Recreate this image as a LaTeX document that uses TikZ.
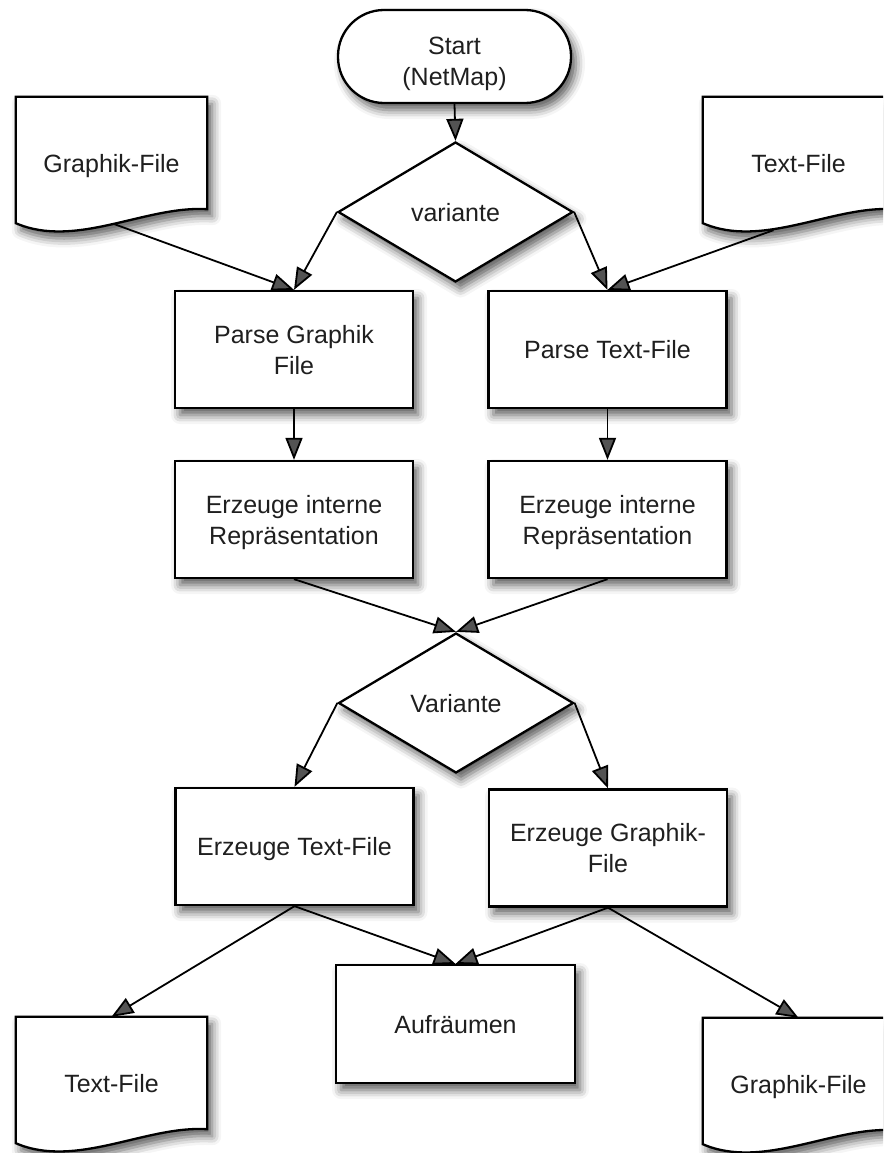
\documentclass[tikz,border=0pt]{standalone}
\usepackage{fontspec}
\setmainfont{Liberation Sans}
\usetikzlibrary{shapes.geometric,arrows.meta,shadows.blur}
\begin{document}
\begin{tikzpicture}[x=1pt,y=-1pt,
  every node/.style={font=\fontsize{25}{31}\selectfont, text=black!88, text depth=0pt},
  softshadow/.style={blur shadow={shadow xshift=5pt,shadow yshift=-7pt,shadow blur radius=9pt,shadow opacity=65}},
  box/.style={rectangle, draw, line width=2.3pt, fill=white, softshadow,
    minimum width=238pt, minimum height=117pt, align=center, inner sep=0pt},
  decision/.style={diamond, draw, line width=2.3pt, fill=white, softshadow,
    minimum width=235pt, minimum height=140pt, inner sep=0pt},
  terminal/.style={rectangle, rounded corners=46pt, draw, line width=2.3pt, fill=white, softshadow,
    minimum width=233pt, minimum height=93pt, align=center, inner sep=0pt},
  doc/.style={rectangle, minimum width=191pt, minimum height=126pt, inner sep=0pt},
  docline/.style={line width=2.3pt, fill=white, softshadow, line join=miter},
  flow/.style={line width=1.8pt, -{Triangle[length=22pt,width=17pt]}},
]
\useasboundingbox (0,0) rectangle (883,1153);
\clip (0,0) rectangle (883,1153);

% document outline: flat top, wavy bottom
\newcommand{\docshape}[1]{%
  \draw[docline] (#1.north west) -- (#1.north east) -- ([yshift=14pt]#1.south east)
    .. controls ([xshift=-61pt,yshift=18pt]#1.south east) and ([xshift=60pt,yshift=-26pt]#1.south west)
    .. (#1.south west) -- cycle;}

% input / output files
\node[doc] (gin) at (111.5,160) {};
\node[doc] (tin) at (798.5,160) {};
\node[doc] (tout) at (111.5,1080) {};
\node[doc] (gout) at (798.5,1081) {};
\docshape{gin}
\docshape{tin}
\docshape{tout}
\docshape{gout}
\node at ([yshift=-3pt]gin.center) {Graphik-File};
\node at ([yshift=-3pt]tin.center) {Text-File};
\node at ([yshift=-3pt]tout.center) {Text-File};
\node at ([yshift=-3pt]gout.center) {Graphik-File};

% flow nodes
\node[terminal] (start) at (454.5,56.5) {\rule{0pt}{28pt}Start\\(NetMap)};
\node[decision] (v1) at (455.5,212) {variante};
\node[box] (pg) at (294,349.5) {Parse Graphik\\File};
\node[box] (pt) at (607.5,349.5) {Parse Text-File};
\node[box] (ig) at (294,519.5) {Erzeuge interne\\Repräsentation};
\node[box] (it) at (607.5,519.5) {Erzeuge interne\\Repräsentation};
\node[decision] (v2) at (456,703) {Variante};
\node[box] (et) at (294.5,846.5) {Erzeuge Text-File};
\node[box] (eg) at (608,848) {Erzeuge Graphik-\\File};
\node[box, minimum width=239pt, minimum height=118pt] (auf) at (455.5,1024) {Aufräumen};

% connector start points on the wavy file edges
\coordinate (gin-o) at ([xshift=3pt,yshift=-1pt]gin.south);
\coordinate (tin-o) at ([xshift=-25pt,yshift=-7pt]tin.south);

% connectors
\draw[flow] (start.south) -- (v1.north);
\draw[flow] (v1.west) -- (pg.north);
\draw[flow] (v1.east) -- (pt.north);
\draw[flow] (gin-o) -- (pg.north);
\draw[flow] (tin-o) -- (pt.north);
\draw[flow] (pg.south) -- (ig.north);
\draw[flow] (pt.south) -- (it.north);
\draw[flow] (ig.south) -- (v2.north);
\draw[flow] (it.south) -- (v2.north);
\draw[flow] (v2.west) -- (et.north);
\draw[flow] (v2.east) -- (eg.north);
\draw[flow] (et.south) -- (auf.north);
\draw[flow] (eg.south) -- (auf.north);
\draw[flow] (et.south) -- (tout.north);
\draw[flow] (eg.south) -- (gout.north);
\end{tikzpicture}
\end{document}
